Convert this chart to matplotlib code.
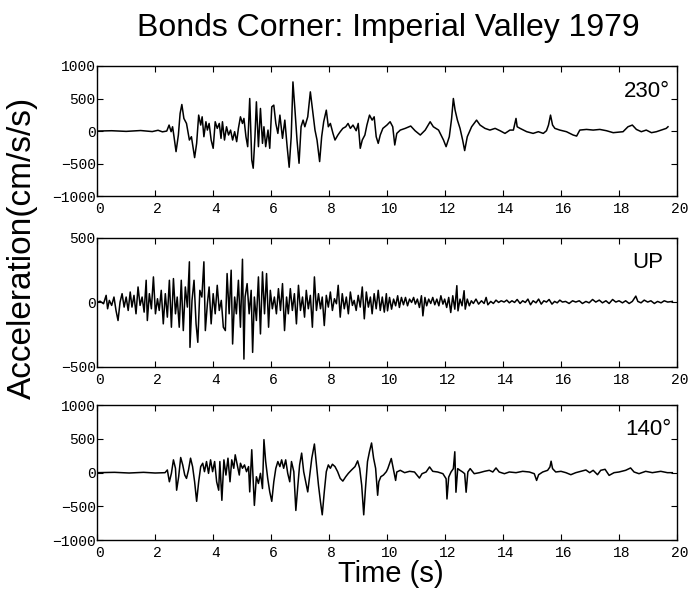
import numpy as np
import matplotlib.pyplot as plt
from matplotlib.transforms import ScaledTranslation

# Bonds Corner record, Imperial Valley 1979
title = "Bonds Corner: Imperial Valley 1979"
labels = ["230°", "UP", "140°"]
xticks = [0, 2, 4, 6, 8, 10, 12, 14, 16, 18, 20]
yticks_h = [-1000, -500, 0, 500, 1000]
yticks_up = [-500, 0, 500]

# (time s, acceleration cm/s/s)
rec_230 = [
    (0.00, 0), (0.50, 5), (1.00, -5), (1.50, 8), (1.90, -8), (2.10, 12), (2.25, -12),
    (2.40, 0), (2.48, 92), (2.55, -10), (2.60, 66), (2.65, -87), (2.72, -316), (2.80, -61),
    (2.86, 270), (2.92, 408), (2.99, 194), (3.08, 117), (3.18, -138), (3.25, -87), (3.36, -408),
    (3.43, -189), (3.50, 245), (3.57, 92), (3.62, 219), (3.68, -87), (3.75, 143), (3.80, 15),
    (3.86, 117), (3.93, -138), (4.00, -265), (4.07, 143), (4.14, 41), (4.21, 117), (4.27, -112),
    (4.32, 143), (4.39, -138), (4.46, 66), (4.53, -61), (4.60, 15), (4.67, -138), (4.74, -10),
    (4.81, -163), (4.87, 41), (4.94, 219), (5.01, 117), (5.06, 194), (5.13, -87), (5.19, -240),
    (5.26, 500), (5.33, -444), (5.38, -571), (5.44, -87), (5.49, 449), (5.56, -240), (5.63, 347),
    (5.70, -189), (5.75, 66), (5.81, -240), (5.89, 15), (5.95, -265), (6.02, 372), (6.09, 398),
    (6.16, 117), (6.23, -36), (6.30, 245), (6.39, -112), (6.47, 168), (6.55, -240), (6.62, -556),
    (6.69, -87), (6.75, 755), (6.82, 321), (6.89, -138), (6.96, -495), (7.03, 66), (7.10, 168),
    (7.16, 66), (7.26, 219), (7.35, 602), (7.44, 270), (7.51, 15), (7.58, -138), (7.67, -469),
    (7.74, -87), (7.81, 143), (7.90, 321), (7.97, 66), (8.04, 117), (8.13, -36), (8.20, -138),
    (8.30, -61), (8.38, -10), (8.47, 41), (8.57, 66), (8.65, 117), (8.73, 41), (8.82, 92),
    (8.93, 5), (9.00, 117), (9.07, -265), (9.14, -138), (9.23, -61), (9.30, 92), (9.39, 245),
    (9.48, 168), (9.55, 219), (9.62, -87), (9.69, -189), (9.76, -61), (9.85, 41), (9.99, 92),
    (10.10, 143), (10.19, 66), (10.26, -214), (10.33, -36), (10.45, 15), (10.62, 41), (10.81, 77),
    (10.96, 5), (11.14, -61), (11.31, 15), (11.48, 143), (11.59, 66), (11.77, 15), (11.94, -138),
    (12.03, -240), (12.14, -87), (12.22, 194), (12.28, 500), (12.34, 321), (12.42, 168),
    (12.51, 41), (12.60, -138), (12.67, -300), (12.76, -87), (12.91, 66), (13.08, 168),
    (13.20, 92), (13.37, 41), (13.54, 15), (13.72, 41), (13.89, 5), (14.06, -36), (14.23, 15),
    (14.35, 15), (14.44, 194), (14.48, 66), (14.58, 41), (14.81, -10), (15.03, -36), (15.21, -10),
    (15.38, -36), (15.49, 5), (15.56, 92), (15.63, 245), (15.70, 92), (15.78, 41), (15.95, 15),
    (16.18, -10), (16.41, -61), (16.53, -77), (16.64, 15), (16.87, 25), (17.10, 15), (17.33, 25),
    (17.56, 5), (17.79, -25), (18.13, -10), (18.30, 66), (18.45, 92), (18.59, 25), (18.76, -10),
    (18.93, 15), (19.11, -25), (19.28, -10), (19.45, 15), (19.62, 41), (19.68, 66),
]

rec_up = [
    (0.00, 0), (0.10, 10), (0.22, -10), (0.31, 55), (0.36, -49), (0.42, 16), (0.50, -23),
    (0.58, 42), (0.65, -62), (0.72, -140), (0.79, 3), (0.86, 68), (0.93, -36), (1.00, 42),
    (1.07, -62), (1.14, 81), (1.20, -36), (1.27, 55), (1.34, -88), (1.41, 120), (1.48, -23),
    (1.55, 42), (1.62, -75), (1.69, 172), (1.73, -140), (1.80, 68), (1.87, -49), (1.94, 198),
    (2.01, -88), (2.08, 29), (2.14, -62), (2.21, 94), (2.28, -166), (2.35, 68), (2.42, -114),
    (2.49, 172), (2.56, -192), (2.63, 185), (2.70, -88), (2.76, 42), (2.83, -192), (2.90, 172),
    (2.97, -218), (3.04, 120), (3.11, -36), (3.18, 315), (3.20, -348), (3.27, 16), (3.34, 172),
    (3.41, -166), (3.47, -309), (3.54, 94), (3.61, 42), (3.68, 315), (3.73, -218), (3.80, -10),
    (3.86, 120), (3.93, -166), (4.00, 68), (4.07, -88), (4.14, 133), (4.21, -62), (4.28, 16),
    (4.35, -192), (4.42, -218), (4.48, 224), (4.55, -88), (4.62, 250), (4.67, -322), (4.74, 42),
    (4.80, -88), (4.87, 172), (4.94, -192), (5.01, 335), (5.06, -439), (5.10, 42), (5.17, 146),
    (5.24, -88), (5.31, 94), (5.36, -387), (5.42, 42), (5.49, -140), (5.56, 198), (5.63, -244),
    (5.70, 237), (5.77, -88), (5.84, 224), (5.91, -192), (5.97, 94), (6.04, -49), (6.11, 42),
    (6.18, -88), (6.25, 107), (6.32, -62), (6.39, 146), (6.46, -218), (6.53, 42), (6.59, -88),
    (6.66, 107), (6.73, -62), (6.80, 68), (6.87, -166), (6.94, 133), (7.01, -62), (7.08, 42),
    (7.15, -114), (7.21, 94), (7.28, -49), (7.35, 55), (7.42, -192), (7.49, 198), (7.56, -62),
    (7.63, 68), (7.70, -49), (7.76, 42), (7.83, -179), (7.90, 55), (7.97, -36), (8.04, 81),
    (8.11, -62), (8.18, 29), (8.25, -10), (8.31, 133), (8.38, -114), (8.45, 68), (8.52, -49),
    (8.59, 42), (8.66, -88), (8.73, 81), (8.80, -23), (8.86, 16), (8.93, -62), (9.00, 55),
    (9.07, -36), (9.14, 120), (9.21, -127), (9.28, 81), (9.35, -36), (9.42, 42), (9.48, -88),
    (9.55, 68), (9.62, -49), (9.69, 94), (9.76, -62), (9.83, 42), (9.90, -75), (9.97, 68),
    (10.01, -65), (10.08, 39), (10.15, -52), (10.22, 26), (10.29, -26), (10.36, 52), (10.42, -39),
    (10.49, 39), (10.56, -18), (10.63, 39), (10.70, -26), (10.77, 26), (10.84, 0), (10.91, 39),
    (10.97, -13), (11.04, 26), (11.11, -39), (11.18, 52), (11.23, -104), (11.30, 39), (11.36, -26),
    (11.43, 26), (11.50, -8), (11.57, 39), (11.64, -18), (11.71, 26), (11.78, -26), (11.85, 52),
    (11.92, -13), (11.98, 26), (12.05, -39), (12.12, 39), (12.19, -78), (12.26, 52), (12.33, -52),
    (12.40, 130), (12.44, -65), (12.51, 26), (12.58, -26), (12.65, 91), (12.69, -52), (12.76, 26),
    (12.83, -26), (12.90, 13), (12.97, -8), (13.06, 26), (13.15, -13), (13.25, 13), (13.34, -8),
    (13.41, 39), (13.47, -18), (13.57, 8), (13.66, -8), (13.75, 18), (13.84, 0), (13.93, 13),
    (14.03, 3), (14.12, 18), (14.21, -3), (14.30, 13), (14.39, 0), (14.48, 23), (14.58, -8),
    (14.67, 13), (14.76, 0), (14.85, 26), (14.94, -18), (15.03, 13), (15.13, -3), (15.22, 26),
    (15.31, -13), (15.40, 13), (15.49, 3), (15.58, 23), (15.68, -13), (15.77, 8), (15.86, -3),
    (15.95, 18), (16.04, 3), (16.15, 8), (16.27, -8), (16.39, 13), (16.50, 3), (16.62, 13),
    (16.73, -8), (16.85, 8), (16.96, -3), (17.08, 23), (17.19, 3), (17.31, 18), (17.42, -3),
    (17.54, 13), (17.65, -8), (17.77, 23), (17.88, 3), (17.99, 13), (18.11, -3), (18.22, 13),
    (18.34, -8), (18.45, 8), (18.57, 49), (18.64, 8), (18.75, -3), (18.86, 18), (18.98, 3),
    (19.09, 13), (19.21, -8), (19.32, 8), (19.44, -3), (19.55, 13), (19.67, 3), (19.83, 8),
]

rec_140 = [
    (0.00, 0), (0.60, 5), (1.10, -5), (1.60, 5), (2.00, -5), (2.34, 0), (2.42, 40), (2.49, -135),
    (2.56, -10), (2.63, 190), (2.70, 65), (2.74, -260), (2.81, -60), (2.88, 225), (2.95, 115),
    (3.02, -35), (3.08, -85), (3.15, 40), (3.22, 215), (3.29, 90), (3.36, -135), (3.43, -425),
    (3.50, -135), (3.57, 90), (3.64, 140), (3.70, 15), (3.77, 165), (3.84, -10), (3.91, 190),
    (3.98, 15), (4.05, 165), (4.12, -135), (4.19, -260), (4.23, 165), (4.30, -410), (4.37, 190),
    (4.44, -35), (4.51, 215), (4.58, -135), (4.64, 190), (4.71, 65), (4.76, 265), (4.83, 115),
    (4.90, -35), (4.94, 140), (5.01, 65), (5.08, 115), (5.15, 15), (5.22, 90), (5.26, -285),
    (5.33, 340), (5.38, -135), (5.42, -485), (5.49, -60), (5.56, -160), (5.63, -10), (5.70, -235),
    (5.75, 490), (5.81, 165), (5.88, -85), (5.95, -285), (6.02, -425), (6.09, -135), (6.16, 65),
    (6.23, 165), (6.30, 90), (6.36, 190), (6.43, 65), (6.50, 190), (6.57, -10), (6.64, -135),
    (6.70, 165), (6.78, 15), (6.85, -560), (6.92, -185), (6.98, 115), (7.05, 290), (7.12, 15),
    (7.19, -135), (7.26, -285), (7.33, -35), (7.40, 215), (7.49, 425), (7.56, 115), (7.63, -185),
    (7.70, -435), (7.76, -625), (7.83, -285), (7.90, 15), (7.97, 115), (8.04, 65), (8.11, 125),
    (8.20, 90), (8.29, 15), (8.38, -85), (8.47, -125), (8.57, -60), (8.66, -10), (8.77, 40),
    (8.89, 90), (8.98, 175), (9.05, 65), (9.12, -185), (9.19, -625), (9.25, -235), (9.32, 165),
    (9.39, 315), (9.46, 440), (9.53, 215), (9.60, 65), (9.67, -335), (9.71, -135), (9.78, -60),
    (9.87, -35), (9.97, 15), (10.02, 60), (10.14, 210), (10.22, 35), (10.29, -115), (10.33, 10),
    (10.45, 35), (10.60, 0), (10.77, 20), (10.94, 10), (11.11, -80), (11.20, -15), (11.34, 10),
    (11.46, 85), (11.57, 20), (11.74, 10), (11.92, -15), (12.03, -90), (12.06, -390),
    (12.12, -65), (12.20, 10), (12.28, 60), (12.33, 310), (12.37, -290), (12.43, 60), (12.51, 35),
    (12.60, 10), (12.67, -15), (12.72, -290), (12.78, 10), (12.86, 60), (13.00, -15), (13.18, 0),
    (13.35, 20), (13.52, 35), (13.64, 10), (13.75, 70), (13.86, 10), (14.04, -15), (14.21, 10),
    (14.44, 0), (14.67, 20), (14.90, 10), (15.07, -15), (15.15, -115), (15.22, -30), (15.36, 10),
    (15.53, 35), (15.61, 85), (15.65, 170), (15.70, 60), (15.81, 10), (15.99, 20), (16.16, 0),
    (16.33, -30), (16.50, 0), (16.67, 20), (16.85, 40), (16.98, 0), (17.10, 35), (17.25, -30),
    (17.36, 35), (17.51, 50), (17.65, -40), (17.82, 0), (17.99, 10), (18.22, 35), (18.39, 70),
    (18.51, 10), (18.68, -15), (18.91, 20), (19.14, 0), (19.43, 20), (19.66, 0), (19.83, 0),
]

plt.rcParams["font.family"] = "Liberation Mono"

fig = plt.figure(figsize=(6.89, 5.89), dpi=100)
boxes = [
    [0.141, 0.667, 0.842, 0.221],
    [0.141, 0.377, 0.842, 0.219],
    [0.141, 0.083, 0.842, 0.229],
]
records = [rec_230, rec_up, rec_140]
label_pos = [(0.988, 0.762), (0.976, 0.767), (0.990, 0.778)]
shift = ScaledTranslation(1.5 / 72, 0, fig.dpi_scale_trans)

for box, rec, lab, lp in zip(boxes, records, labels, label_pos):
    ax = fig.add_axes(box)
    data = np.array(rec)
    ax.plot(data[:, 0], data[:, 1], color="black", lw=1.1)
    ax.set_xlim(0, 20)
    ax.set_xticks(xticks)
    if lab == "UP":
        ax.set_ylim(-500, 500)
        ax.set_yticks(yticks_up)
    else:
        ax.set_ylim(-1000, 1000)
        ax.set_yticks(yticks_h)
    ax.tick_params(direction="in", top=True, right=True, length=4.5, width=0.8,
                   labelsize=10.5)
    ax.tick_params(axis="x", pad=4)
    ax.tick_params(axis="y", pad=1)
    for t in ax.get_xticklabels():
        t.set_transform(t.get_transform() + shift)
    for s in ax.spines.values():
        s.set_linewidth(1.0)
    ax.text(lp[0], lp[1], lab, transform=ax.transAxes, ha="right", va="baseline",
            fontsize=16, family="Liberation Sans")

fig.text(0.563, 0.952, title, ha="center", va="center", fontsize=23,
         family="Liberation Sans")
fig.text(0.032, 0.579, "Acceleration(cm/s/s)", rotation=90, ha="center", va="center",
         fontsize=24, family="Liberation Sans")
fig.text(0.567, 0.001, "Time (s)", ha="center", va="bottom", fontsize=21,
         family="Liberation Sans")

fig.savefig("out.png", dpi=100)
